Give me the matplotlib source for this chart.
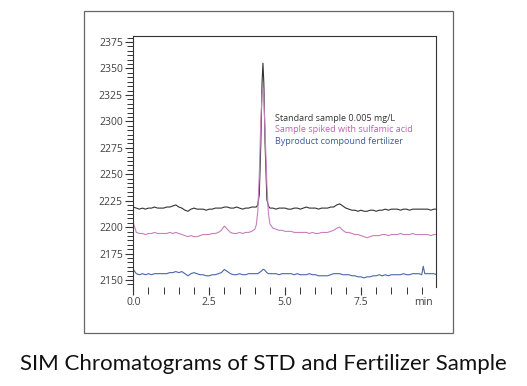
import numpy as np
import matplotlib
matplotlib.use("Agg")
import matplotlib.pyplot as plt
from matplotlib.ticker import MultipleLocator
from matplotlib.patches import Rectangle

# ---- data ----
time_pre = np.round(np.arange(0.0, 4.001, 0.1), 2)
time_peak = [4.05, 4.1, 4.15, 4.2, 4.24, 4.27, 4.3, 4.34, 4.4, 4.45, 4.5]
time_post1 = np.round(np.arange(4.6, 9.501, 0.1), 2)
time_spike = [9.55]
time_post2 = np.round(np.arange(9.6, 10.001, 0.1), 2)
time = np.concatenate([time_pre, time_peak, time_post1, time_spike, time_post2])

std_sample = [
    2219, 2218, 2217, 2218, 2217, 2218, 2218, 2219, 2218, 2218,
    2218, 2219, 2219, 2220, 2221, 2219, 2218, 2216, 2215, 2217,
    2218, 2217, 2217, 2217, 2216, 2217, 2217, 2218, 2218, 2218,
    2219, 2219, 2218, 2218, 2219, 2218, 2217, 2218, 2218, 2219,
    2219,
    2219, 2221, 2231, 2279, 2336, 2355, 2336, 2279, 2226, 2220, 2218,
    2218, 2217, 2218, 2218, 2218, 2217, 2217, 2218, 2218, 2217,
    2218, 2219, 2218, 2218, 2218, 2217, 2218, 2218, 2218, 2219,
    2219, 2221, 2222, 2220, 2218, 2217, 2216, 2216, 2215, 2216,
    2215, 2215, 2216, 2216, 2215, 2216, 2216, 2217, 2216, 2217,
    2217, 2217, 2216, 2217, 2217, 2216, 2217, 2217, 2217, 2217,
    2217,
    2217, 2217, 2216, 2217, 2217,
]

spiked_sample = [
    2204, 2195, 2194, 2194, 2193, 2194, 2194, 2195, 2194, 2194,
    2194, 2194, 2195, 2194, 2195, 2194, 2193, 2192, 2191, 2192,
    2191, 2191, 2192, 2193, 2193, 2193, 2194, 2194, 2195, 2197,
    2201, 2198, 2195, 2194, 2194, 2195, 2194, 2195, 2195, 2196,
    2198,
    2202, 2215, 2250, 2300, 2325, 2331, 2322, 2290, 2240, 2213, 2203,
    2199, 2198, 2197, 2197, 2196, 2196, 2196, 2195, 2195, 2195,
    2195, 2195, 2194, 2195, 2194, 2194, 2195, 2195, 2195, 2196,
    2197, 2199, 2200, 2197, 2195, 2195, 2194, 2193, 2193, 2192,
    2191, 2190, 2191, 2192, 2192, 2192, 2193, 2193, 2192, 2193,
    2193, 2193, 2194, 2193, 2193, 2193, 2194, 2193, 2193, 2193,
    2193,
    2193, 2193, 2192, 2193, 2193,
]

fertilizer = [
    2160, 2156, 2155, 2156, 2155, 2156, 2155, 2156, 2156, 2156,
    2156, 2156, 2157, 2157, 2158, 2157, 2158, 2156, 2154, 2156,
    2157, 2156, 2155, 2155, 2154, 2154, 2155, 2155, 2156, 2157,
    2160, 2158, 2156, 2155, 2155, 2156, 2155, 2155, 2156, 2156,
    2156,
    2156, 2156, 2157, 2158, 2159, 2160, 2160, 2159, 2157, 2156, 2156,
    2156, 2156, 2155, 2156, 2156, 2156, 2156, 2155, 2156, 2155,
    2155, 2155, 2156, 2155, 2155, 2154, 2154, 2154, 2154, 2155,
    2156, 2156, 2156, 2155, 2155, 2155, 2154, 2154, 2153, 2153,
    2152, 2153, 2153, 2154, 2154, 2155, 2154, 2155, 2154, 2155,
    2155, 2155, 2155, 2156, 2155, 2155, 2156, 2156, 2156, 2155,
    2163,
    2156, 2156, 2156, 2156, 2155,
]

series_labels = ["Standard sample 0.005 mg/L",
                 "Sample spiked with sulfamic acid",
                 "Byproduct compound fertilizer"]
series_colors = ["#333333", "#c880be", "#4a67a8"]
text_colors = ["#333333", "#c060b0", "#3d5aa0"]
y_ticks = [2150, 2175, 2200, 2225, 2250, 2275, 2300, 2325, 2350, 2375]
x_ticks = [0.0, 2.5, 5.0, 7.5]
x_tick_labels = ["0.0", "2.5", "5.0", "7.5"]
caption = "SIM Chromatograms of STD and Fertilizer Sample"

# ---- plot ----
plt.rcParams['font.family'] = ['Open Sans', 'DejaVu Sans']
fig = plt.figure(figsize=(5.27, 3.86), dpi=100)
fig.patch.set_facecolor("white")

fig.patches.append(Rectangle((84 / 527, 1 - 332.5 / 386), (452.5 - 84) / 527,
                             (332.5 - 11) / 386, transform=fig.transFigure,
                             fill=False, edgecolor="#666666", linewidth=0.9))

ax = fig.add_axes([133.3 / 527, 1 - 287 / 386, (436 - 133.3) / 527, (287 - 36) / 386])
for vals, col in zip([std_sample, spiked_sample, fertilizer], series_colors):
    ax.plot(time, vals, color=col, linewidth=0.8)

ax.set_xlim(0, 9.97)
ax.set_ylim(2143.4, 2380.7)
ax.set_xticks(x_ticks)
ax.set_xticklabels(x_tick_labels)
ax.xaxis.set_minor_locator(MultipleLocator(0.5))
ax.set_yticks(y_ticks)
ax.yaxis.set_minor_locator(MultipleLocator(25 / 6))
ax.spines["bottom"].set_visible(False)
for s in ["left", "top", "right"]:
    ax.spines[s].set_color("#333333")
    ax.spines[s].set_linewidth(0.8)
ax.tick_params(axis="both", which="major", length=6, width=0.8, color="#333333",
               labelsize=7.5, labelcolor="#404040", pad=1.5)
ax.tick_params(axis="both", which="minor", length=4, width=0.7, color="#333333")
ax.tick_params(axis="x", which="minor", length=5)
ax.text(0.96, -0.062, "min", transform=ax.transAxes, ha="center", va="center",
        fontsize=7.5, color="#404040")

for i, (lab, col) in enumerate(zip(series_labels, text_colors)):
    ax.text(0.469, 0.673 - i * 0.0466, lab, transform=ax.transAxes, ha="left",
            va="center", fontsize=6.5, color=col)

fig.text(0.5, 1 - 364 / 386, caption, ha="center", va="center", fontsize=16,
         color="#111111", family=["Lato", "DejaVu Sans"])

fig.savefig("out.png", dpi=100, facecolor="white")
